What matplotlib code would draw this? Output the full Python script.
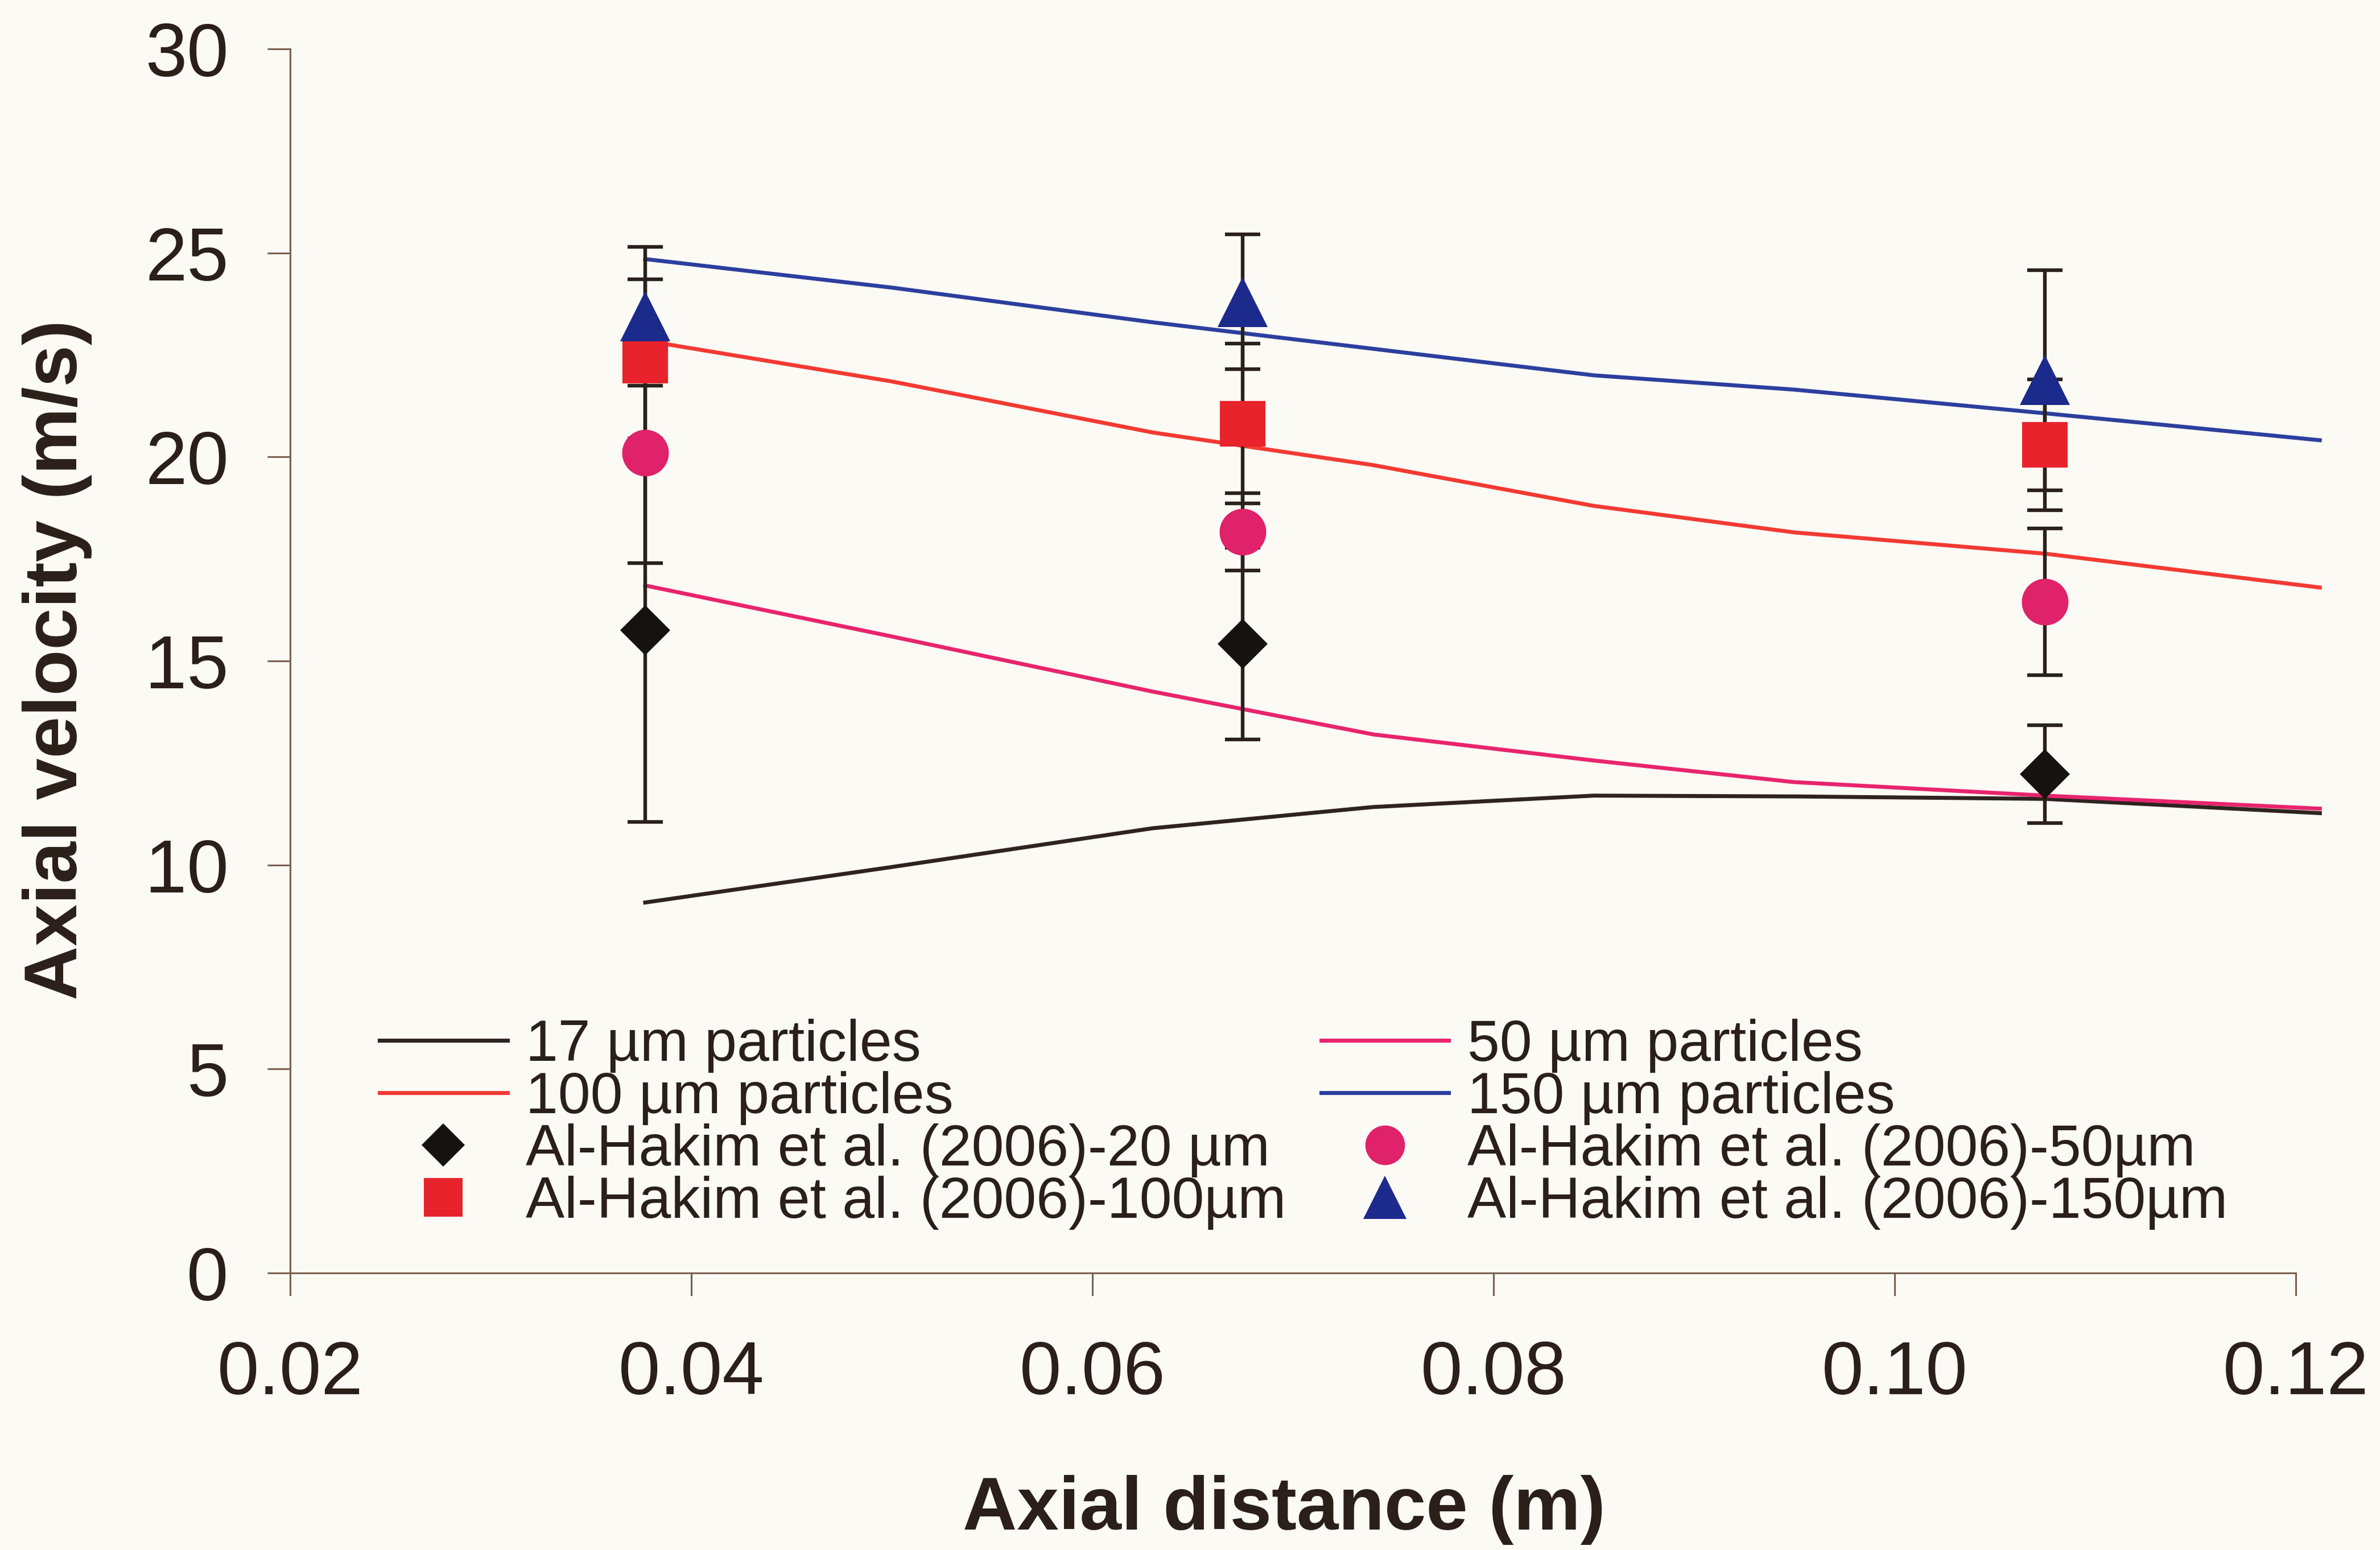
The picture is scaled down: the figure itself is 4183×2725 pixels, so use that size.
import matplotlib
matplotlib.use("Agg")
import matplotlib.pyplot as plt

# ---- CFD predictions (axial velocity along the axis) ----
x_cfd = [0.0377, 0.050, 0.063, 0.074, 0.085, 0.095, 0.1075, 0.1212]
v_17 = [9.08, 9.95, 10.9, 11.42, 11.7, 11.68, 11.62, 11.27]
v_50 = [16.85, 15.6, 14.25, 13.2, 12.56, 12.03, 11.7, 11.38]
v_100 = [22.85, 21.85, 20.6, 19.8, 18.8, 18.15, 17.63, 16.8]
v_150 = [24.85, 24.15, 23.3, 22.65, 22.0, 21.65, 21.07, 20.41]

# ---- Al-Hakim et al. (2006) measurements ----
x_exp = [0.0377, 0.0675, 0.1075]
exp_20 = [15.75, 15.42, 12.23]
err_20 = [4.7, 2.35, 1.2]
exp_50 = [20.1, 18.16, 16.45]
err_50 = [2.7, 0.95, 1.8]
exp_100 = [22.36, 20.82, 20.3]
err_100 = [2.0, 1.96, 1.6]
exp_150 = [23.45, 23.8, 21.88]
err_150 = [1.7, 1.65, 2.7]

x_ticks = [0.02, 0.04, 0.06, 0.08, 0.10, 0.12]
x_ticklabels = ["0.02", "0.04", "0.06", "0.08", "0.10", "0.12"]
y_ticks = [0, 5, 10, 15, 20, 25, 30]

TEXT = "#2a1f19"
AXIS = "#7a6150"
BG = "#fbfaf4"

plt.rcParams["font.family"] = ["Liberation Sans", "DejaVu Sans"]

W, H = 4183, 2725
fig = plt.figure(figsize=(W / 100, H / 100), dpi=100, facecolor=BG)
ax = fig.add_axes([510 / W, 1 - 2238 / H, (4035 - 510) / W, (2238 - 86) / H])
ax.set_facecolor(BG)

lw = 5.0
l17, = ax.plot(x_cfd, v_17, color="#2e231e", lw=lw, clip_on=False, zorder=2,
               label="17 µm particles")
l50, = ax.plot(x_cfd, v_50, color="#e8246e", lw=lw, clip_on=False, zorder=2,
               label="50 µm particles")
l100, = ax.plot(x_cfd, v_100, color="#f23a32", lw=lw, clip_on=False, zorder=2,
                label="100 µm particles")
l150, = ax.plot(x_cfd, v_150, color="#2c3f9e", lw=lw, clip_on=False, zorder=2,
                label="150 µm particles")

eb_kw = dict(fmt="none", ecolor="#2a211c", elinewidth=4.6, capsize=22, capthick=4.6,
             zorder=3)
for ys, es in [(exp_20, err_20), (exp_50, err_50), (exp_100, err_100), (exp_150, err_150)]:
    ax.errorbar(x_exp, ys, yerr=es, **eb_kw)

m20, = ax.plot(x_exp, exp_20, ls="none", marker="D", ms=45, mew=0, color="#151210",
               zorder=4, label="Al-Hakim et al. (2006)-20 µm")
m50, = ax.plot(x_exp, exp_50, ls="none", marker="o", ms=59, mew=0, color="#e0226a",
               zorder=4, label="Al-Hakim et al. (2006)-50µm")
m100, = ax.plot(x_exp, exp_100, ls="none", marker="s", ms=57, mew=0, color="#e8232c",
                zorder=4, label="Al-Hakim et al. (2006)-100µm")
m150, = ax.plot(x_exp, exp_150, ls="none", marker="^", ms=64, mew=0, color="#1c2a8c",
                zorder=5, label="Al-Hakim et al. (2006)-150µm")

ax.set_xlim(0.02, 0.12)
ax.set_ylim(0, 30)
ax.set_xticks(x_ticks)
ax.set_xticklabels(x_ticklabels)
ax.set_yticks(y_ticks)

for s in ["top", "right"]:
    ax.spines[s].set_visible(False)
for s in ["left", "bottom"]:
    ax.spines[s].set_color(AXIS)
    ax.spines[s].set_linewidth(2.2)

ax.tick_params(axis="both", direction="out", length=29, width=2.2, color=AXIS,
               labelsize=95, labelcolor=TEXT)
ax.tick_params(axis="x", pad=55)
ax.tick_params(axis="y", pad=49)

fig.text(2257 / W, 1 - 2655 / H, "Axial distance (m)", ha="center", va="center",
         fontsize=95, fontweight="bold", color=TEXT)
fig.text(101 / W, 1 - 1160 / H, "Axial velocity (m/s)", ha="center", va="center",
         rotation=90, fontsize=95, fontweight="bold", color=TEXT)

handles = [l17, l100, m20, m100, l50, l150, m50, m150]
leg = fig.legend(handles=handles, labels=[h.get_label() for h in handles],
                 ncol=2, loc="upper left", bbox_to_anchor=(667 / W, 1 - 1791 / H),
                 bbox_transform=fig.transFigure, frameon=False, fontsize=73.5,
                 borderpad=0, borderaxespad=0, handlelength=2.2, handletextpad=0.32,
                 labelspacing=-0.03, columnspacing=0.6, markerscale=0.85,
                 labelcolor=TEXT)

fig.savefig("out.png", dpi=100, facecolor=BG)
